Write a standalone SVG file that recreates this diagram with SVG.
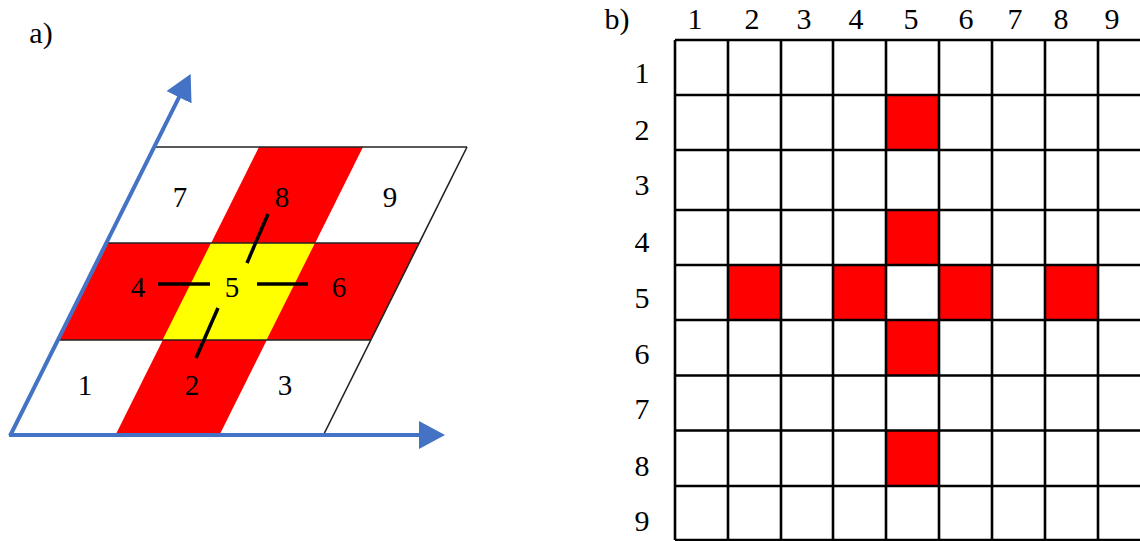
<svg xmlns="http://www.w3.org/2000/svg" width="1140" height="541" viewBox="0 0 1140 541">
  <style>
    .t { font-family: "Liberation Serif", serif; font-size: 30px; fill: #000; text-anchor: middle; }
    .ta { font-family: "Liberation Serif", serif; font-size: 29px; fill: #000; text-anchor: middle; }
    .red { fill: #FF0000; }
    .yel { fill: #FFFF00; }
    .thin { stroke: #222; stroke-width: 1.6; fill: none; }
    .grid { stroke: #000; stroke-width: 2.6; fill: none; }
    .axis { stroke: #4472C4; stroke-width: 4; fill: none; marker-end: url(#arr); }
    .tick { stroke: #000; stroke-width: 3.5; fill: none; }
  </style>
  <defs>
    <marker id="arr" markerUnits="userSpaceOnUse" markerWidth="28" markerHeight="28" refX="6" refY="14" orient="auto" viewBox="0 0 28 28">
      <path d="M0,0 L26,14 L0,28 z" fill="#4472C4"/>
    </marker>
  </defs>
  <rect width="1140" height="541" fill="#fff"/>

  <!-- Panel a -->
  <g id="panel-a">
    <text class="t" x="41" y="43">a)</text>
    <g id="cell-col2"><polygon class="red" points="259,147 363,147 220,434 116,434"/></g>
    <g id="cell-row2"><polygon class="red" points="108,243 419,243 370.5,340 59.5,340"/></g>
    <g id="cell-5"><polygon class="yel" points="211,243 315,243 266.5,340 162.5,340"/></g>
    <g id="frame-lines">
      <line class="thin" x1="156" y1="147" x2="467" y2="147"/>
      <line class="thin" x1="108" y1="243" x2="419" y2="243"/>
      <line class="thin" x1="59.5" y1="340" x2="370.5" y2="340"/>
      <line class="thin" x1="467" y1="147" x2="324" y2="434"/>
    </g>
    <g id="label-7"><text class="ta" x="180" y="207">7</text></g>
    <g id="label-8"><text class="ta" x="282" y="207">8</text></g>
    <g id="label-9"><text class="ta" x="390" y="207">9</text></g>
    <g id="label-4"><text class="ta" x="138" y="297">4</text></g>
    <g id="label-5"><text class="ta" x="232" y="297">5</text></g>
    <g id="label-6"><text class="ta" x="339" y="297">6</text></g>
    <g id="label-1"><text class="ta" x="85" y="395">1</text></g>
    <g id="label-2"><text class="ta" x="192" y="395">2</text></g>
    <g id="label-3"><text class="ta" x="285" y="395">3</text></g>
  </g>

  <g id="connectors">
    <line class="axis" x1="9" y1="435" x2="425" y2="435"/>
    <line class="axis" x1="10" y1="436" x2="181.7" y2="91.9"/>
    <line class="tick" x1="268" y1="214" x2="247" y2="263"/>
    <line class="tick" x1="158" y1="284" x2="210" y2="284"/>
    <line class="tick" x1="257" y1="284" x2="308" y2="284"/>
    <line class="tick" x1="218" y1="308" x2="196" y2="358"/>
  </g>

  <!-- Panel b -->
  <g id="panel-b">
    <text class="t" x="617" y="29">b)</text>
    <g id="red-cells">
      <rect class="red" x="886" y="95" width="53" height="55"/>
      <rect class="red" x="886" y="210" width="53" height="55"/>
      <rect class="red" x="728" y="265" width="53" height="55"/>
      <rect class="red" x="833" y="265" width="53" height="55"/>
      <rect class="red" x="939" y="265" width="53" height="55"/>
      <rect class="red" x="1045" y="265" width="53" height="55"/>
      <rect class="red" x="886" y="320" width="53" height="55.5"/>
      <rect class="red" x="886" y="430.5" width="53" height="55.5"/>
    </g>
    <g id="grid-lines">
      <path class="grid" d="M675,40V540 M728,40V540 M781,40V540 M833,40V540 M886,40V540 M939,40V540 M992,40V540 M1045,40V540 M1098,40V540"/>
      <path class="grid" d="M675,40H1140 M675,95H1140 M675,150H1140 M675,210H1140 M675,265H1140 M675,320H1140 M675,375.5H1140 M675,430.5H1140 M675,486H1140 M675,540H1140"/>
    </g>
    <g id="col-labels">
      <text class="t" x="695" y="29">1</text>
      <text class="t" x="752" y="29">2</text>
      <text class="t" x="804" y="29">3</text>
      <text class="t" x="856" y="29">4</text>
      <text class="t" x="911" y="29">5</text>
      <text class="t" x="966" y="29">6</text>
      <text class="t" x="1015" y="29">7</text>
      <text class="t" x="1061" y="29">8</text>
      <text class="t" x="1112" y="29">9</text>
    </g>
    <g id="row-labels">
      <text class="t" x="642" y="83">1</text>
      <text class="t" x="642" y="140">2</text>
      <text class="t" x="642" y="195">3</text>
      <text class="t" x="642" y="252">4</text>
      <text class="t" x="642" y="308">5</text>
      <text class="t" x="642" y="364">6</text>
      <text class="t" x="642" y="419">7</text>
      <text class="t" x="642" y="476">8</text>
      <text class="t" x="642" y="531">9</text>
    </g>
  </g>
</svg>
